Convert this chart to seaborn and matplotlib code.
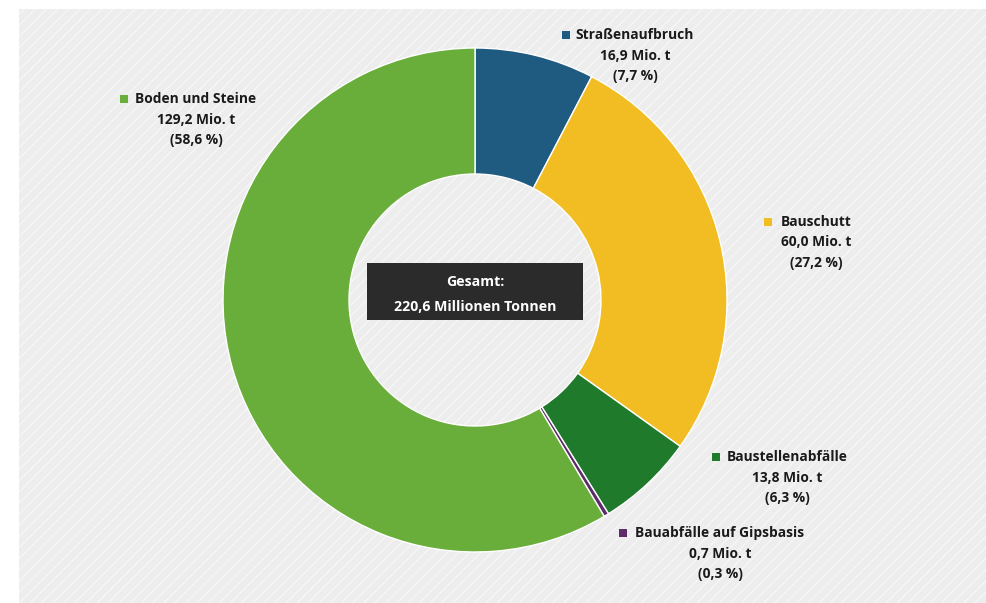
import matplotlib
matplotlib.use("Agg")
import matplotlib.pyplot as plt
from matplotlib.patches import Rectangle
import seaborn as sns

categories = ["Straßenaufbruch", "Bauschutt", "Baustellenabfälle",
              "Bauabfälle auf Gipsbasis", "Boden und Steine"]
values = [16.9, 60.0, 13.8, 0.7, 129.2]
value_labels = ["16,9 Mio. t", "60,0 Mio. t", "13,8 Mio. t", "0,7 Mio. t", "129,2 Mio. t"]
pct_labels = ["(7,7 %)", "(27,2 %)", "(6,3 %)", "(0,3 %)", "(58,6 %)"]
colors = ["#1f5b80", "#f2bd22", "#1f7a2c", "#5c2d6b", "#69ad3a"]
total_title = "Gesamt:"
total_label = "220,6 Millionen Tonnen"

sns.set_theme(style="white")
plt.rcParams["font.family"] = ["Open Sans", "DejaVu Sans"]
plt.rcParams["hatch.linewidth"] = 1.0
plt.rcParams["hatch.color"] = "#f6f6f6"

W, H = 986, 603
fig = plt.figure(figsize=(W / 100, H / 100), dpi=100)
fig.patch.set_facecolor("white")

# hatched light-gray panel
bg = Rectangle((19 / W, 0), 1 - 19 / W, 1 - 9 / H, transform=fig.transFigure,
               facecolor="#ededed", edgecolor="#f6f6f6", hatch="///", lw=0, zorder=-10)
fig.patches.append(bg)

cx, cy, R = 475, 300, 252
ax = fig.add_axes([(cx - R) / W, (H - cy - R) / H, 2 * R / W, 2 * R / H])
ax.set_zorder(1)
ax.set_facecolor("none")
ax.pie(values, colors=colors, startangle=90, counterclock=False, radius=1,
       wedgeprops=dict(width=0.5, edgecolor="white", linewidth=1.0))
ax.set_xlim(-1, 1)
ax.set_ylim(-1, 1)
ax.set_aspect("equal")
ax.axis("off")

# center box
bx0, bx1, by0, by1 = 367, 583, 263, 320
fig.patches.append(Rectangle((bx0 / W, 1 - by1 / H), (bx1 - bx0) / W, (by1 - by0) / H,
                             transform=fig.transFigure, facecolor="#2b2b2b",
                             edgecolor="none", zorder=5))
fig.text(475 / W, 1 - 282 / H, total_title, ha="center", va="center", color="white",
         fontsize=10.2, fontweight="bold", zorder=6)
fig.text(475 / W, 1 - 307 / H, total_label, ha="center", va="center", color="white",
         fontsize=10.2, fontweight="bold", zorder=6)

# labels: (center x, first line y, marker x)
label_pos = [(635, 35, 566), (816, 222, 768), (787, 457, 716), (720, 533, 623), (196, 99, 124)]
for i, (tx, ty, mx) in enumerate(label_pos):
    lines = [categories[i], value_labels[i], pct_labels[i]]
    for j, s in enumerate(lines):
        fig.text(tx / W, 1 - (ty + j * 20.5) / H, s, ha="center", va="center",
                 fontsize=9.9, fontweight="bold", color="#1a1a1a", zorder=6)
    fig.patches.append(Rectangle(((mx - 4) / W, 1 - (ty + 4) / H), 8 / W, 8 / H,
                                 transform=fig.transFigure, facecolor=colors[i],
                                 edgecolor="none", zorder=6))

fig.savefig("out.png", dpi=100)
